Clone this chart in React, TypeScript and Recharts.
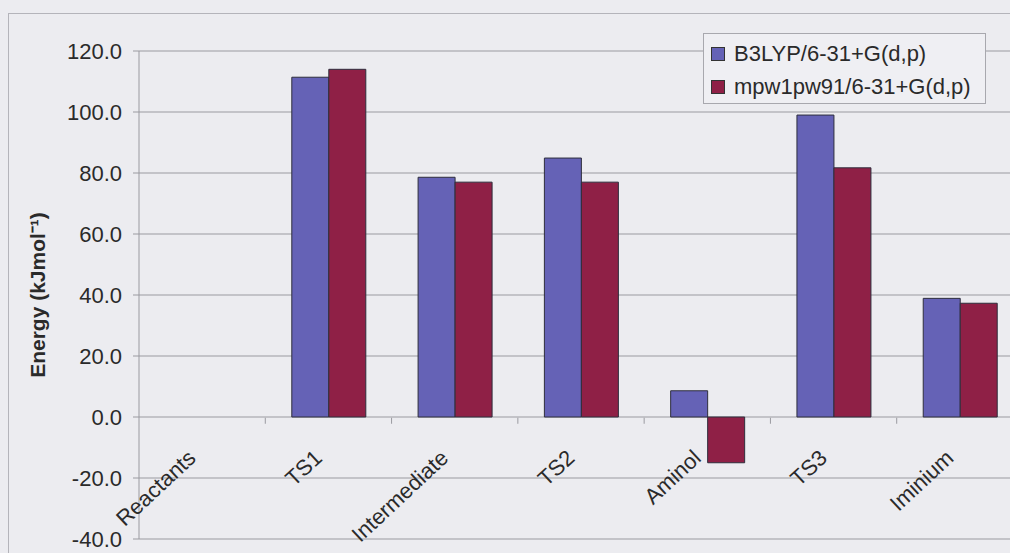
import React from "react";
import {
  BarChart,
  Bar,
  XAxis,
  YAxis,
  CartesianGrid,
  Label
} from "recharts";

const categories = [
  "Reactants",
  "TS1",
  "Intermediate",
  "TS2",
  "Aminol",
  "TS3",
  "Iminium"
];
const b3lyp = [0, 111.4, 78.6, 84.9, 8.6, 99.0, 38.9];
const mpw1pw91 = [0, 114.0, 77.0, 77.0, -15.0, 81.7, 37.3];
const yTicks = [-40, -20, 0, 20, 40, 60, 80, 100, 120];
const seriesNames = ["B3LYP/6-31+G(d,p)", "mpw1pw91/6-31+G(d,p)"];

const data = categories.map((c, i) => ({
  name: c,
  b3lyp: b3lyp[i],
  mpw: mpw1pw91[i]
}));

const W = 1030;
const H = 553;
const M = { top: 51, right: 7, bottom: 13, left: 0 };
const Y_W = 139;
const PLOT_W = W - M.left - M.right - Y_W;
const PLOT_H = H - M.top - M.bottom;
const BAND = PLOT_W / categories.length;
const ZERO_Y = M.top + (120 / 160) * PLOT_H;

const BLUE = "#6562b6";
const RED = "#8f2046";
const GRID = "#9a9aa0";
const FONT = "'Liberation Sans', Arial, sans-serif";

function XTick(props: any) {
  const { x, payload, index } = props;
  const tx = x - 5;
  const ty = ZERO_Y + 42;
  return (
    <g>
      {index > 0 && (
        <line
          x1={x - BAND / 2}
          x2={x - BAND / 2}
          y1={ZERO_Y}
          y2={ZERO_Y + 6}
          stroke={GRID}
        />
      )}
      <text
        x={tx}
        y={ty}
        transform={`rotate(-43, ${tx}, ${ty})`}
        textAnchor="end"
        fontSize={22}
        fontFamily={FONT}
        fill="#2a2a2a"
      >
        {payload.value}
      </text>
    </g>
  );
}

function LegendBox() {
  const colors = [BLUE, RED];
  return (
    <div
      style={{
        position: "absolute",
        left: 703,
        top: 33,
        border: "1px solid #a8a8ae",
        background: "#efeff3",
        width: 283,
        height: 71,
        boxSizing: "border-box",
        paddingLeft: 7,
        paddingTop: 3,
        fontFamily: FONT,
        fontSize: 22,
        color: "#2a2a2a"
      }}
    >
      {seriesNames.map((n, i) => (
        <div
          key={n}
          style={{ display: "flex", alignItems: "center", height: 33 }}
        >
          <span
            style={{
              display: "inline-block",
              width: 12,
              height: 12,
              background: colors[i],
              border: "1px solid #333",
              marginRight: 9
            }}
          />
          {n}
        </div>
      ))}
    </div>
  );
}

export default function App() {
  return (
    <div
      style={{
        position: "fixed",
        left: 0,
        top: 0,
        width: 1010,
        height: 553,
        overflow: "hidden",
        background: "#ececf0"
      }}
    >
      <div
        style={{
          position: "absolute",
          left: 8,
          top: 13,
          width: 1100,
          height: 700,
          border: "1px solid #b4b4ba"
        }}
      />
      <div style={{ position: "absolute", left: 0, top: 0 }}>
        <BarChart
          width={W}
          height={H}
          data={data}
          margin={M}
          barCategoryGap="21%"
          barGap={0}
        >
          <CartesianGrid vertical={false} stroke={GRID} strokeWidth={1} />
          <XAxis
            dataKey="name"
            height={1}
            axisLine={false}
            tickLine={false}
            tick={<XTick />}
            interval={0}
          />
          <YAxis
            width={Y_W}
            domain={[-40, 120]}
            ticks={yTicks}
            tickFormatter={(v: number) => v.toFixed(1)}
            axisLine={{ stroke: GRID }}
            tickLine={{ stroke: GRID }}
            tickSize={6}
            tickMargin={11}
            tick={{ fontSize: 22, fill: "#2a2a2a", fontFamily: FONT }}
            interval={0}
          >
            <Label
              angle={-90}
              position="insideLeft"
              offset={38}
              style={{
                fontSize: 21,
                fontWeight: "bold",
                fontFamily: FONT,
                fill: "#2a2a2a",
                textAnchor: "middle"
              }}
              value="Energy (kJmol⁻¹)"
            />
          </YAxis>
          <Bar
            dataKey="b3lyp"
            name={seriesNames[0]}
            fill={BLUE}
            stroke="#2e2e3c"
            strokeWidth={1}
            isAnimationActive={false}
          />
          <Bar
            dataKey="mpw"
            name={seriesNames[1]}
            fill={RED}
            stroke="#2e2e3c"
            strokeWidth={1}
            isAnimationActive={false}
          />
        </BarChart>
      </div>
      <LegendBox />
    </div>
  );
}
